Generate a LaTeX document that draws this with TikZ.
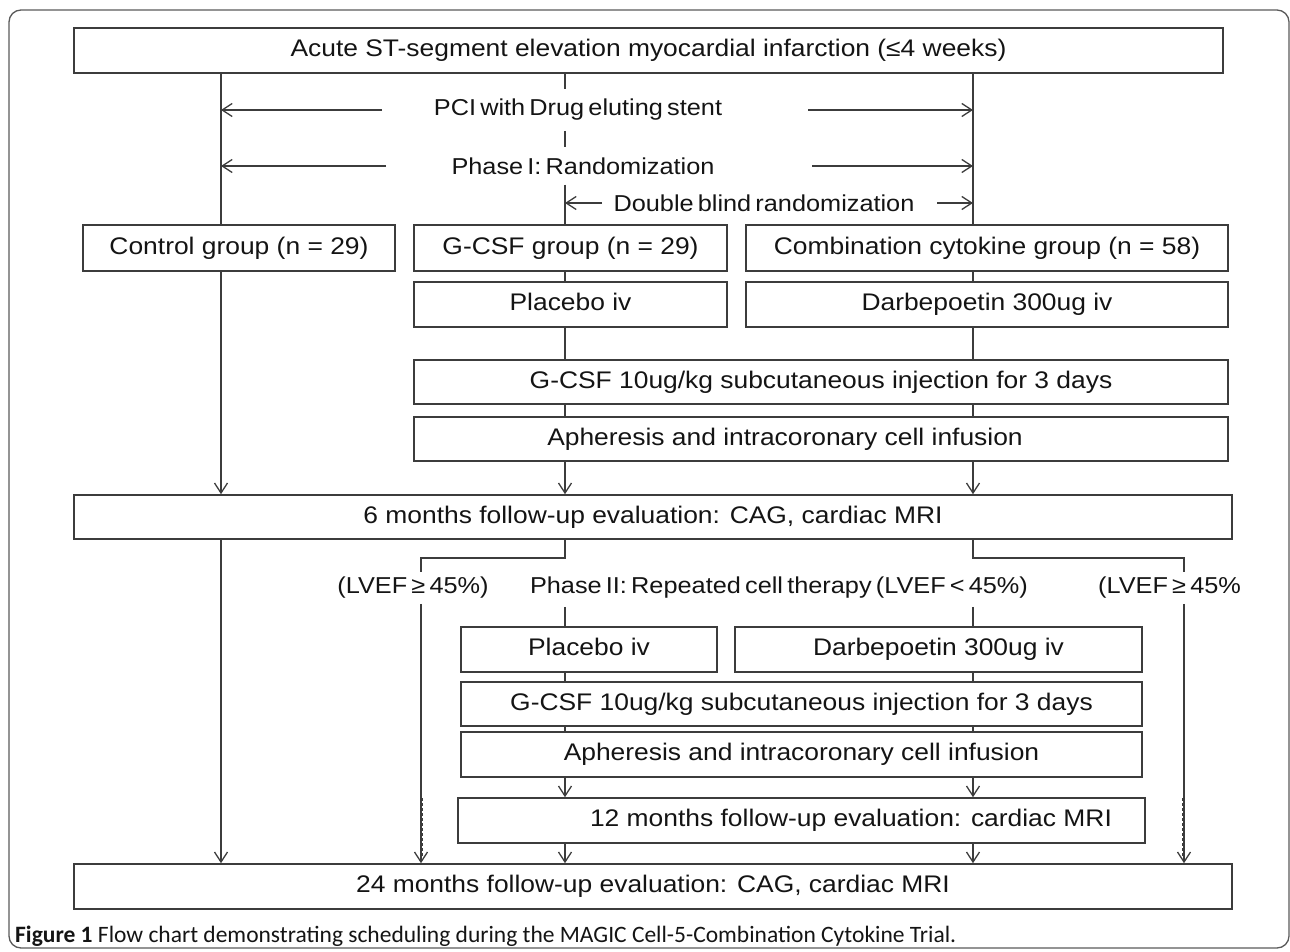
\documentclass[tikz,border=0pt]{standalone}
\usepackage{fontspec}
\setmainfont{Liberation Sans}[FakeStretch=1.1]
\newfontfamily\capfont{Carlito}
\usetikzlibrary{arrows.meta}
\pgfdeclarelayer{bg}
\pgfsetlayers{bg,main}
\definecolor{lncol}{HTML}{3C3C3C}
\definecolor{txcol}{HTML}{141414}
\definecolor{frmcol}{HTML}{5A5A5A}
\newcommand\fsz{\fontsize{24}{28}\selectfont}
\newcommand\tsz{\fontsize{23}{27}\selectfont\spaceskip=4.2pt plus 1pt}
\newcommand\mybox[6]{\node[box, minimum width={(#4-#2)*1pt}, minimum height={(#5-#3)*1pt}] (#1) at ({(#2+#4)/2},{(#3+#5)/2}) {#6};}
\begin{document}
\begin{tikzpicture}[x=1pt,y=-1pt,
  box/.style={draw=lncol, line width=1.6pt, inner sep=0pt, font=\fsz, text=txcol, text height=17.5pt, text depth=5pt},
  lbl/.style={font=\fsz, text=txcol, inner xsep=2pt, text height=17.5pt, text depth=5pt},
  tlbl/.style={font=\tsz, text=txcol, inner xsep=2pt},
  ln/.style={draw=lncol, line width=1.4pt},
  arr/.style={ln, -{Straight Barb[length=10pt,width=13pt,line width=1.3pt]}}
]
\useasboundingbox (0,0) rectangle (1290,952);
\draw[frmcol, line width=1.3pt, rounded corners=12pt] (9,10) rectangle (1289,948);

% boxes
\mybox{top}{74}{28}{1223}{73}{Acute ST-segment elevation myocardial infarction (≤4 weeks)}
\mybox{ctrl}{83}{225}{395}{271}{Control group (n = 29)}
\mybox{gcsfg}{414}{225}{727}{271}{G-CSF group (n = 29)}
\mybox{comb}{746}{225}{1228}{271}{Combination cytokine group (n = 58)}
\mybox{plac1}{414}{282}{727}{327}{Placebo iv}
\mybox{darb1}{746}{282}{1228}{327}{Darbepoetin 300ug iv}
\mybox{gc1}{414}{360}{1228}{404}{G-CSF 10ug/kg subcutaneous injection for 3 days}
\mybox{aph1}{414}{417}{1228}{461}{}
\node[lbl] (aph1t) at (785,439) {Apheresis and intracoronary cell infusion};
\mybox{six}{74}{495}{1232}{539}{6 months follow-up evaluation: CAG, cardiac MRI}
\mybox{plac2}{461}{627}{717}{672}{Placebo iv}
\mybox{darb2}{735}{627}{1142}{672}{Darbepoetin 300ug iv}
\mybox{gc2}{461}{682}{1142}{726}{G-CSF 10ug/kg subcutaneous injection for 3 days}
\mybox{aph2}{461}{732}{1142}{777}{Apheresis and intracoronary cell infusion}
\mybox{twelve}{458}{798}{1145}{843}{}
\node[lbl] (twelvet) at (851,820) {12 months follow-up evaluation: cardiac MRI};
\mybox{tf}{74}{864}{1232}{909}{24 months follow-up evaluation: CAG, cardiac MRI}

% labels
\node[tlbl, inner ysep=10pt] (pci) at (578,110) {PCI with Drug eluting stent};
\node[tlbl, inner ysep=10pt] (ph1) at (583,166) {Phase I: Randomization};
\node[tlbl] (db) at (764,203) {Double blind randomization};
\node[tlbl, inner ysep=5pt] (lvL) at (413,588) {(LVEF ≥ 45\%)};
\node[tlbl, inner ysep=8pt] (ph2) at (779,588) {Phase II: Repeated cell therapy (LVEF < 45\%)};
\node[tlbl, anchor=west, inner ysep=5pt] (lvR) at (1096,588) {(LVEF ≥ 45\%};

\node[anchor=west, font=\capfont\fontsize{23.5}{26}\selectfont, text=txcol, inner sep=0pt] (cap) at (15,936)
  {\textbf{Figure 1} Flow chart demonstrating scheduling during the MAGIC Cell-5-Combination Cytokine Trial.};

% coordinates
\coordinate (L) at (221,0);
\coordinate (M) at (565,0);
\coordinate (R) at (973,0);
\coordinate (LL) at (421,0);
\coordinate (RR) at (1184,0);
\coordinate (jy) at (0,558);
\coordinate (pciA) at (382,110);
\coordinate (pciB) at (808,110);
\coordinate (ph1A) at (386,166);
\coordinate (ph1B) at (812,166);
\coordinate (dbA) at (602,203);
\coordinate (dbB) at (937,203);
\coordinate (dd1) at (0,798);
\coordinate (dd2) at (0,856);

\begin{pgfonlayer}{bg}
\draw[ln] (top.south -| L) -- (ctrl.north -| L);
\draw[arr] (ctrl.south -| L) -- (six.north -| L);
\draw[arr] (six.south -| L) -- (tf.north -| L);

\draw[ln] (top.south -| M) -- (pci.north -| M);
\draw[ln] (pci.south -| M) -- (ph1.north -| M);
\draw[ln] (ph1.south -| M) -- (gcsfg.north -| M);
\draw[ln] (top.south -| R) -- (comb.north -| R);

\draw[arr] (pciA) -- (pciA -| L);
\draw[arr] (pciB) -- (pciB -| R);
\draw[arr] (ph1A) -- (ph1A -| L);
\draw[arr] (ph1B) -- (ph1B -| R);
\draw[arr] (dbA) -- (dbA -| M);
\draw[arr] (dbB) -- (dbB -| R);

\draw[ln] (gcsfg.south -| M) -- (plac1.north -| M);
\draw[ln] (plac1.south -| M) -- (gc1.north -| M);
\draw[ln] (gc1.south -| M) -- (aph1.north -| M);
\draw[arr] (aph1.south -| M) -- (six.north -| M);
\draw[ln] (comb.south -| R) -- (darb1.north -| R);
\draw[ln] (darb1.south -| R) -- (gc1.north -| R);
\draw[ln] (gc1.south -| R) -- (aph1.north -| R);
\draw[arr] (aph1.south -| R) -- (six.north -| R);

\draw[ln] (six.south -| M) -- (M |- jy) -- (LL |- jy) -- (lvL.north -| LL);
\draw[arr] (lvL.south -| LL) -- (tf.north -| LL);
\draw[ln] (six.south -| R) -- (R |- jy) -- (RR |- jy) -- (lvR.north -| RR);
\draw[arr] (lvR.south -| RR) -- (tf.north -| RR);
\draw[ln, densely dashed, line width=1pt] ([xshift=1.5pt]LL |- dd1) -- ([xshift=1.5pt]LL |- dd2);
\draw[ln, densely dashed, line width=1pt] ([xshift=-1.5pt]RR |- dd1) -- ([xshift=-1.5pt]RR |- dd2);

\draw[ln] (ph2.south -| M) -- (plac2.north -| M);
\draw[ln] (ph2.south -| R) -- (darb2.north -| R);
\draw[ln] (plac2.south -| M) -- (gc2.north -| M);
\draw[ln] (darb2.south -| R) -- (gc2.north -| R);
\draw[ln] (gc2.south -| M) -- (aph2.north -| M);
\draw[ln] (gc2.south -| R) -- (aph2.north -| R);
\draw[arr] (aph2.south -| M) -- (twelve.north -| M);
\draw[arr] (aph2.south -| R) -- (twelve.north -| R);
\draw[arr] (twelve.south -| M) -- (tf.north -| M);
\draw[arr] (twelve.south -| R) -- (tf.north -| R);
\end{pgfonlayer}
\end{tikzpicture}
\end{document}
